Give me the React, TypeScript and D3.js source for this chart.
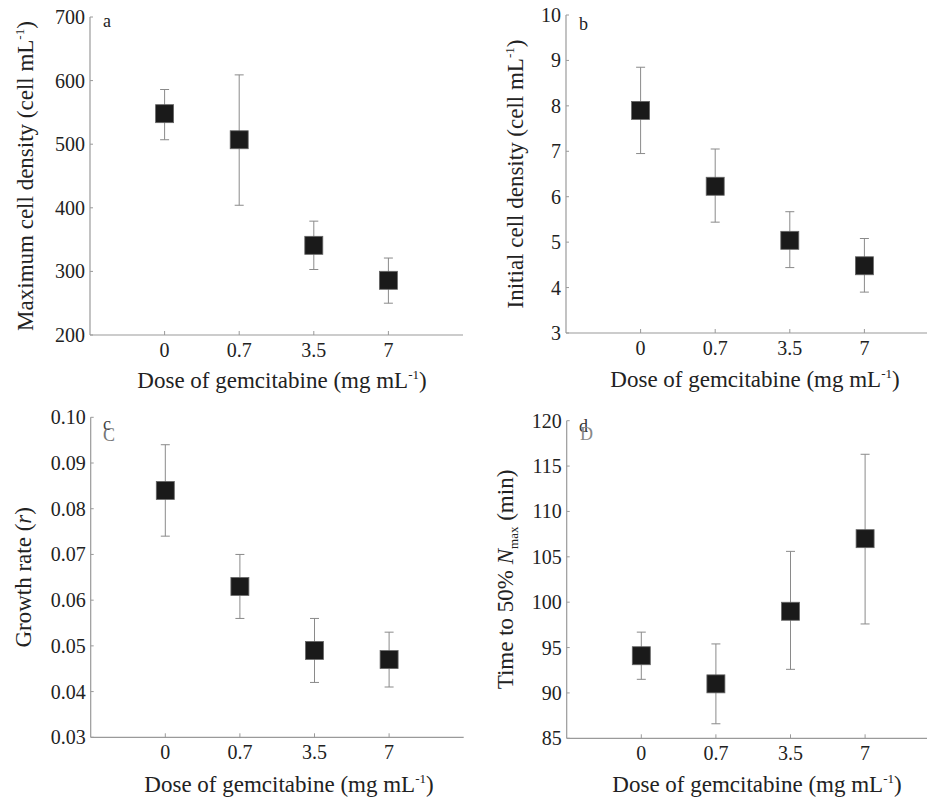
import React from "react";
import * as d3 from "d3";

const doses = ["0", "0.7", "3.5", "7"];

const maxDensity = [548, 507, 341, 286];
const maxDensityLo = [507, 404, 303, 250];
const maxDensityHi = [586, 609, 379, 321];

const initDensity = [7.9, 6.23, 5.04, 4.48];
const initDensityLo = [6.95, 5.44, 4.44, 3.9];
const initDensityHi = [8.85, 7.05, 5.67, 5.08];

const growthRate = [0.084, 0.063, 0.049, 0.047];
const growthRateLo = [0.074, 0.056, 0.042, 0.041];
const growthRateHi = [0.094, 0.07, 0.056, 0.053];

const timeHalf = [94.1, 91.0, 99.0, 107.0];
const timeHalfLo = [91.5, 86.6, 92.6, 97.6];
const timeHalfHi = [96.7, 95.4, 105.6, 116.3];

const ticksA = [200, 300, 400, 500, 600, 700];
const ticksB = [3, 4, 5, 6, 7, 8, 9, 10];
const ticksC = [0.03, 0.04, 0.05, 0.06, 0.07, 0.08, 0.09, 0.1];
const ticksD = [85, 90, 95, 100, 105, 110, 115, 120];

const FONT = "'Liberation Serif', 'Times New Roman', serif";
const AXIS = "#9a9a9a";
const TEXT = "#222";

type PanelProps = {
  axisX: number;
  top: number;
  bottom: number;
  yDomain: [number, number];
  yTicks: number[];
  fmt: (v: number) => string;
  vals: number[];
  lo: number[];
  hi: number[];
  yLabel: React.ReactNode;
  yLabelX: number;
  xLabelX: number;
  xLabelY: number;
  letters: React.ReactNode;
};

function XLabel({ x, y }: { x: number; y: number }) {
  return (
    <text x={x} y={y} textAnchor="middle" fontSize={23} fill={TEXT} fontFamily={FONT}>
      Dose of gemcitabine (mg mL
      <tspan fontSize={13} dy={-9}>-1</tspan>
      <tspan dy={9}>)</tspan>
    </text>
  );
}

function Panel(p: PanelProps) {
  const step = 74.6;
  const x = d3.scaleLinear().domain([-1, 4]).range([p.axisX, p.axisX + 5 * step]);
  const y = d3.scaleLinear().domain(p.yDomain).range([p.bottom, p.top]);
  const right = Math.min(927, x(4));
  const sq = 18;
  const cap = 4.5;
  const midY = (p.top + p.bottom) / 2;
  return (
    <g fontFamily={FONT}>
      <line x1={p.axisX} x2={p.axisX} y1={p.top} y2={p.bottom} stroke={AXIS} strokeWidth={1.2} />
      <line x1={p.axisX} x2={right} y1={p.bottom} y2={p.bottom} stroke={AXIS} strokeWidth={1.2} />
      {p.yTicks.map((t) => (
        <g key={t}>
          <line x1={p.axisX} x2={p.axisX + 3} y1={y(t)} y2={y(t)} stroke={AXIS} strokeWidth={1} />
          <text x={p.axisX - 5} y={y(t)} dy="0.35em" textAnchor="end" fontSize={20} fill={TEXT}>
            {p.fmt(t)}
          </text>
        </g>
      ))}
      {doses.map((d, i) => (
        <g key={d}>
          <line x1={x(i)} x2={x(i)} y1={p.bottom} y2={p.bottom - 4} stroke={AXIS} strokeWidth={1} />
          <text x={x(i)} y={p.bottom + 22} textAnchor="middle" fontSize={20} fill={TEXT}>
            {d}
          </text>
        </g>
      ))}
      {p.vals.map((v, i) => (
        <g key={i}>
          <line x1={x(i)} x2={x(i)} y1={y(p.lo[i])} y2={y(p.hi[i])} stroke="#8a8a8a" strokeWidth={1} />
          <line x1={x(i) - cap} x2={x(i) + cap} y1={y(p.lo[i])} y2={y(p.lo[i])} stroke="#8a8a8a" strokeWidth={1} />
          <line x1={x(i) - cap} x2={x(i) + cap} y1={y(p.hi[i])} y2={y(p.hi[i])} stroke="#8a8a8a" strokeWidth={1} />
          <rect x={x(i) - sq / 2} y={y(v) - sq / 2} width={sq} height={sq} fill="#1a1a1a" stroke="#666" strokeWidth={0.8} />
        </g>
      ))}
      <text
        transform={`translate(${p.yLabelX},${midY}) rotate(-90)`}
        textAnchor="middle"
        fontSize={23}
        fill={TEXT}
      >
        {p.yLabel}
      </text>
      <XLabel x={p.xLabelX} y={p.xLabelY} />
      {p.letters}
    </g>
  );
}

const cellLabel = (prefix: string) => (
  <>
    {prefix} (cell mL
    <tspan fontSize={13} dy={-9}>-1</tspan>
    <tspan dy={9}>)</tspan>
  </>
);

export default function App() {
  return (
    <svg
      width={927}
      height={800}
      style={{ position: "absolute", left: 0, top: 0, background: "#fff" }}
    >
      <Panel
        axisX={90}
        top={17}
        bottom={335}
        yDomain={[200, 700]}
        yTicks={ticksA}
        fmt={(v) => String(v)}
        vals={maxDensity}
        lo={maxDensityLo}
        hi={maxDensityHi}
        yLabel={cellLabel("Maximum cell density")}
        yLabelX={33}
        xLabelX={282}
        xLabelY={388}
        letters={
          <text x={103} y={27} fontSize={18} fill={TEXT} fontFamily={FONT}>a</text>
        }
      />
      <Panel
        axisX={566}
        top={15}
        bottom={333}
        yDomain={[3, 10]}
        yTicks={ticksB}
        fmt={(v) => String(v)}
        vals={initDensity}
        lo={initDensityLo}
        hi={initDensityHi}
        yLabel={cellLabel("Initial cell density")}
        yLabelX={523}
        xLabelX={755}
        xLabelY={387}
        letters={
          <text x={579} y={30} fontSize={18} fill={TEXT} fontFamily={FONT}>b</text>
        }
      />
      <Panel
        axisX={90.7}
        top={417.3}
        bottom={737.3}
        yDomain={[0.03, 0.1]}
        yTicks={ticksC}
        fmt={d3.format(".2f")}
        vals={growthRate}
        lo={growthRateLo}
        hi={growthRateHi}
        yLabel={
          <>
            Growth rate (<tspan fontStyle="italic">r</tspan>)
          </>
        }
        yLabelX={31}
        xLabelX={289}
        xLabelY={792}
        letters={
          <g fontFamily={FONT} fontSize={18}>
            <text x={103} y={430} fill="#444">c</text>
            <text x={103} y={441} fill="#777">C</text>
          </g>
        }
      />
      <Panel
        axisX={566.7}
        top={420.7}
        bottom={738.3}
        yDomain={[85, 120]}
        yTicks={ticksD}
        fmt={(v) => String(v)}
        vals={timeHalf}
        lo={timeHalfLo}
        hi={timeHalfHi}
        yLabel={
          <>
            Time to 50% <tspan fontStyle="italic">N</tspan>
            <tspan fontSize={13} dy={5}>max</tspan>
            <tspan dy={-5}> (min)</tspan>
          </>
        }
        yLabelX={513}
        xLabelX={757}
        xLabelY={792}
        letters={
          <g fontFamily={FONT} fontSize={18}>
            <text x={579} y={432} fill="#333">d</text>
            <text x={580} y={440} fill="#888">D</text>
          </g>
        }
      />
    </svg>
  );
}
